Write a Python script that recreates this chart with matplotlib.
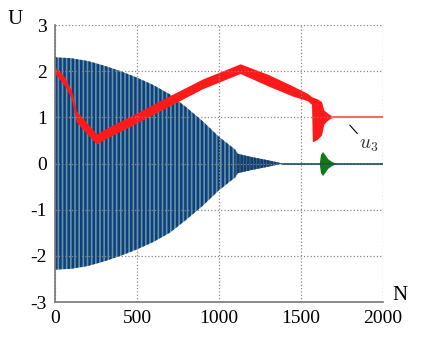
import numpy as np
import matplotlib.pyplot as plt

# =========================
# data
# =========================
# oscillating pair (blue / green): envelope amplitude vs N
osc_n = [0, 100, 200, 300, 400, 500, 600, 700, 800, 900, 1000, 1100]
osc_amp = [2.3, 2.28, 2.22, 2.12, 2.0, 1.86, 1.7, 1.5, 1.22, 0.92, 0.58, 0.3]

# small decaying tail after the jump
tail_n = [1100, 1115, 1200, 1300, 1390]
tail_amp = [0.3, 0.21, 0.14, 0.07, 0.0]

# flat line at zero and the green burst
flat_n = [1390, 2000]
flat_u = [0.0, 0.0]
burst_n = [1612, 1620, 1632, 1645, 1665, 1690, 1720]
burst_amp = [0.0, 0.2, 0.26, 0.2, 0.1, 0.04, 0.0]

# u3 band (red)
red_n = [0, 20, 60, 100, 112, 130, 190, 254, 300, 500, 700, 900, 1130,
         1300, 1450, 1540, 1565, 1570, 1600, 1626, 1640, 1660, 1680, 1700]
red_hi = [2.09, 2.03, 1.87, 1.58, 1.42, 1.14, 0.9, 0.64, 0.74, 1.1, 1.47,
          1.83, 2.16, 1.93, 1.68, 1.52, 1.45, 1.44, 1.4, 1.34, 1.16, 1.1, 1.05, 1.02]
red_lo = [1.94, 1.86, 1.68, 1.4, 1.2, 0.9, 0.66, 0.42, 0.52, 0.88, 1.25,
          1.62, 1.95, 1.68, 1.46, 1.36, 1.28, 0.47, 0.52, 0.62, 0.85, 0.93, 0.98, 1.0]
red_tail_n = [1690, 2000]
red_tail_u = [1.01, 1.01]

xticks = [0, 500, 1000, 1500, 2000]
yticks = [-3, -2, -1, 0, 1, 2, 3]

plt.rcParams['font.family'] = ['Liberation Serif', 'DejaVu Serif']
plt.rcParams['mathtext.fontset'] = 'cm'
plt.rcParams['axes.unicode_minus'] = False
plt.rcParams['hatch.linewidth'] = 1.8

fig = plt.figure(figsize=(4.23, 3.38), dpi=100)
ax = fig.add_axes([0.130, 0.1065, 0.775, 0.8195])

amp = np.array(osc_amp)
ax.fill_between(osc_n, -amp, amp, facecolor='#5f9a92', edgecolor='#123a8a',
                hatch='||||', linewidth=0)
t_amp = np.array(tail_amp)
ax.fill_between(tail_n, -t_amp, t_amp, facecolor='#3f7a72', edgecolor='#15397a',
                hatch='|||||', linewidth=0)
ax.plot(flat_n, flat_u, color='#1d4f4f', lw=1.2)
b_amp = np.array(burst_amp)
ax.fill_between(burst_n, -b_amp, b_amp, color='#107a18', linewidth=0)

ax.fill_between(red_n, red_lo, red_hi, color='#ff1a1a', linewidth=0)
ax.plot(red_tail_n, red_tail_u, color='#f26a6a', lw=1.5)

# u3 annotation
ax.plot([1799, 1844], [0.83, 0.65], color='black', lw=0.8)
ax.text(1915, 0.40, '$u_3$', fontsize=14, ha='center', va='center', color='#333333')

ax.set_xlim(0, 2000)
ax.set_ylim(-3, 3)
ax.set_xticks(xticks)
ax.set_yticks(yticks)
ax.tick_params(length=0, labelsize=14, pad=6)
ax.grid(True, linestyle=':', color='#888888', lw=0.9)
for s in ['top', 'right']:
    ax.spines[s].set_visible(False)
for s in ['left', 'bottom']:
    ax.spines[s].set_color('#777777')
    ax.spines[s].set_linewidth(1.2)

fig.text(15 / 423, 1 - 20 / 338, 'U', fontsize=15, ha='center', va='center')
fig.text(400 / 423, 1 - 295 / 338, 'N', fontsize=15, ha='center', va='center')

fig.savefig('out.png', dpi=100)
